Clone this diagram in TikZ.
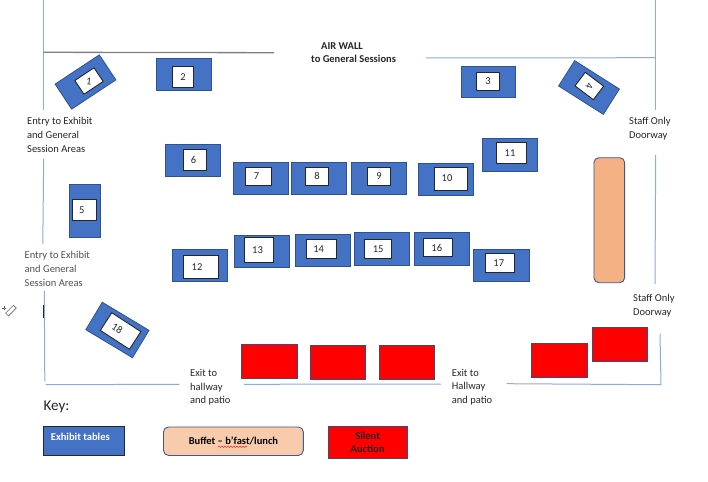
\documentclass[tikz,border=0pt]{standalone}
\usepackage{fontspec}
\setmainfont{Carlito}
\usetikzlibrary{decorations.pathmorphing}
\definecolor{wall}{HTML}{8FAADC}
\definecolor{tblue}{HTML}{4472C4}
\definecolor{tedge}{HTML}{2F528F}
\definecolor{buffetfill}{HTML}{F4B183}
\definecolor{keyfill}{HTML}{F8CBAD}
\definecolor{rededge}{HTML}{3B4A78}
\definecolor{ink}{HTML}{262626}
\newcommand\off[2]{\makebox[0pt]{\hspace*{#1pt}\mbox{#2}}}
\tikzset{
  x=1pt,y=-1pt,
  sz/.style 2 args={minimum width=#1pt,minimum height=#2pt},
  tbl/.style={draw=tedge,fill=tblue,line width=.8pt,inner sep=0pt},
  inn/.style={draw=ink,fill=white,line width=.9pt,inner sep=0pt,text=ink,font=\fontsize{10.5}{12}\selectfont},
  redbox/.style={draw=rededge,fill=red,line width=.8pt,inner sep=0pt},
  wallline/.style={draw=wall,line width=1pt},
  lab/.style={anchor=west,inner sep=0pt,align=left,text=ink,font=\fontsize{10.5}{13.7}\selectfont},
  keylab/.style={inner sep=0pt,align=center,font=\fontsize{10.5}{13}\selectfont\bfseries},
}
\begin{document}
\begin{tikzpicture}
\useasboundingbox (0,0) rectangle (708,481);
\fill[white] (0,0) rectangle (708,481);
% walls
\draw[wallline] (43.7,0) -- (43.7,110.5);
\draw[wallline] (43.7,158.7) -- (42.8,244);
\draw[wallline] (44.3,290.7) -- (44.8,381.7);
\draw[ink,line width=1pt] (43.5,305) -- (43.5,318);
\draw[wallline] (45.7,384.7) -- (179.3,384.3);
\draw[wallline] (244,384.3) -- (441,384);
\draw[wallline] (506.7,383.7) -- (661,384.7) -- (660,334);
\draw[wallline] (655.7,0) -- (655.7,110);
\draw[wallline] (655.7,155) -- (655,284);
\draw[draw=gray,line width=1.3pt] (43.7,52.3) -- (274,52.7);
\draw[wallline] (426,58) -- (655.7,57.7);
% tables
\node[tbl,sz={53}{30},rotate=33.5] (t1) at (85.5,82) {};
\node[inn,sz={23}{16.5},rotate=33.5] (n1) at (89,81) {\rotatebox{-40}{1}};
\node[tbl,sz={55}{32}] (t2) at (183.8,74.3) {};
\node[inn,sz={20.6}{21.3}] (n2) at (183,77.3) {2};
\node[tbl,sz={54}{31}] (t3) at (488.2,82.2) {};
\node[inn,sz={22.6}{18}] (n3) at (488,81.3) {3};
\node[tbl,sz={53}{30},rotate=-32.4] (t4) at (589,87.5) {};
\node[inn,sz={23}{17},rotate=-37] (n4) at (589.3,86) {\rotatebox{-70}{4}};
\node[tbl,sz={30.7}{53.4}] (t5) at (84.7,211) {};
\node[inn,sz={24}{21}] (n5) at (84.3,210.2) {\off{-5}{5}};
\node[tbl,sz={55}{32.4}] (t6) at (193.2,160.5) {};
\node[inn,sz={23.4}{20.6}] (n6) at (195,160) {\off{-3}{6}};
\node[tbl,sz={55}{32.4}] (t7) at (260.5,178.5) {};
\node[inn,sz={26.4}{18.3}] (n7) at (258.5,176.2) {\off{-4}{7}};
\node[tbl,sz={55.3}{32.4}] (t8) at (318.7,178.5) {};
\node[inn,sz={22.6}{18.3}] (n8) at (317,176.2) {8};
\node[tbl,sz={55.4}{32.4}] (t9) at (379,178.5) {};
\node[inn,sz={22.6}{18.3}] (n9) at (379,176.2) {9};
\node[tbl,sz={55}{32.3}] (t10) at (445.5,179.2) {};
\node[inn,sz={33.4}{23}] (n10) at (451,178.5) {\off{-8}{10}};
\node[tbl,sz={55.4}{32.6}] (t11) at (510,155) {};
\node[inn,sz={30.4}{20.6}] (n11) at (511.5,153) {\off{-3}{11}};
\node[tbl,sz={55}{32.4}] (t12) at (199.5,265.5) {};
\node[inn,sz={35.4}{23}] (n12) at (201,267.2) {\off{-8}{12}};
\node[tbl,sz={55}{32.7}] (t13) at (262.2,251.3) {};
\node[inn,sz={28.6}{24.3}] (n13) at (259,249.8) {\off{-3}{13}};
\node[tbl,sz={55}{32.4}] (t14) at (323.2,250.5) {};
\node[inn,sz={30.3}{18.6}] (n14) at (321.2,249) {\off{-5}{14}};
\node[tbl,sz={55.4}{32.3}] (t15) at (382,248.8) {};
\node[inn,sz={27}{18.6}] (n15) at (378.2,249) {15};
\node[tbl,sz={55.3}{32.3}] (t16) at (441.7,248.8) {};
\node[inn,sz={29}{18.4}] (n16) at (437.8,247.5) {\off{-2}{16}};
\node[tbl,sz={55.3}{32.4}] (t17) at (501.3,265.5) {};
\node[inn,sz={29}{18.6}] (n17) at (499.8,263) {\off{-2}{17}};
\node[tbl,sz={54.5}{32},rotate=-31] (t18) at (117.4,330) {};
\node[inn,sz={34.7}{21},rotate=-33] (n18) at (120.6,331) {\off{-8}{18}};
% buffet
\node[draw=tedge!80!gray,fill=buffetfill,line width=.9pt,rounded corners=5pt,inner sep=0pt,sz={30.7}{125}] (buffet) at (609.3,220.2) {};
% silent auction tables
\node[redbox,sz={55.3}{34}] (r1) at (269.3,361.7) {};
\node[redbox,sz={55}{34}] (r2) at (337.5,362.7) {};
\node[redbox,sz={55}{34}] (r3) at (406.5,362.7) {};
\node[redbox,sz={55.3}{33.7}] (r4) at (559.3,360.2) {};
\node[redbox,sz={55}{34}] (r5) at (619.8,344.7) {};
% labels
\node[lab] (a) at (27,135) {Entry to Exhibit\\and General\\Session Areas};
\node[lab,text=ink!80] (b) at (24.5,269) {Entry to Exhibit\\and General\\Session Areas};
\node[lab] (c) at (190,387.5) {Exit to\\hallway\\and patio};
\node[lab] (d) at (451.7,387) {Exit to\\Hallway\\and patio};
\node[lab] (e) at (629,129) {Staff Only\\Doorway};
\node[lab] (f) at (633,306) {Staff Only\\Doorway};
\node[lab,font=\fontsize{10.5}{13.5}\selectfont\bfseries] (g) at (321,45.7) {AIR WALL};
\node[lab,font=\fontsize{10.5}{13.5}\selectfont\bfseries] (h) at (311,59) {to General Sessions};
\node[lab,font=\fontsize{15}{18}\selectfont] (key) at (43.5,406.7) {Key:};
% key
\node[draw=ink,fill=tblue,line width=.9pt,sz={81.4}{29},inner sep=0pt] (k1) at (84,441.2) {};
\node[keylab,text=white,anchor=west] (k1t) at (50.7,436.6) {Exhibit tables};
\node[draw=tedge!80!gray,fill=keyfill,line width=.9pt,rounded corners=5pt,sz={139.8}{28.5},keylab,text=black] (k2) at (233.4,441.2) {Buffet – b’fast/lunch};
\node[redbox,sz={79.3}{32},keylab,text=ink] (k3) at (367.6,442.7) {Silent\\Auction};
\draw[red,line width=.4pt,decorate,decoration={snake,amplitude=.6pt,segment length=3pt}] (218,446.8) -- (247,446.8);
% pen mark
\draw[ink!70,line width=.6pt,rotate around={45:(9.5,312)}] (6,310) rectangle (17,314);
\draw[ink!70,line width=.6pt] (2,308) -- (6,308) (4,306) -- (4,310);
\end{tikzpicture}
\end{document}
